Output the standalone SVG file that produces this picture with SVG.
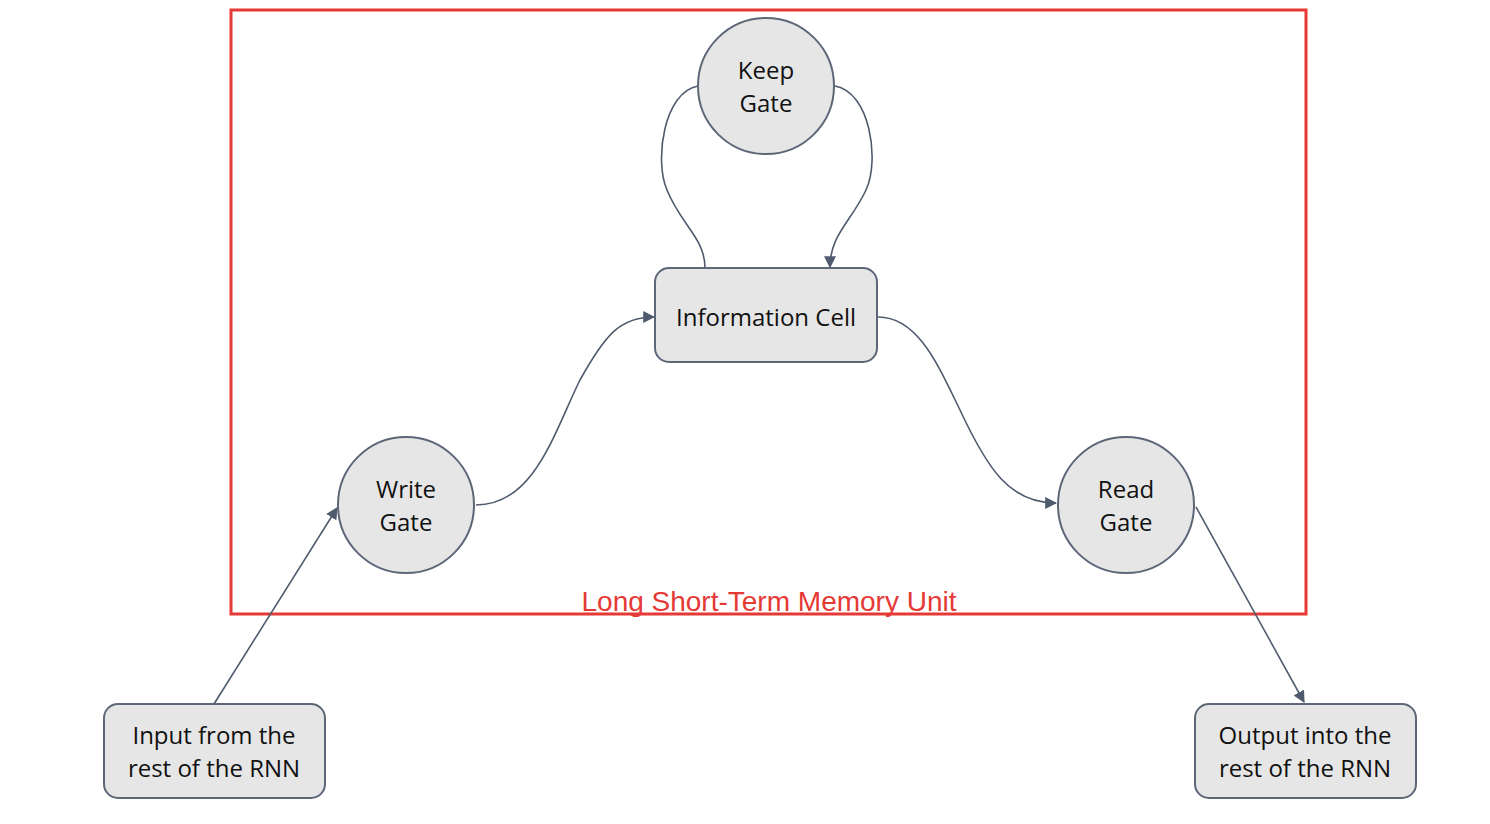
<svg xmlns="http://www.w3.org/2000/svg" width="1490" height="824" viewBox="0 0 1490 824">
<defs>
<style>
.node{fill:#e6e6e6;stroke:#5d6778;stroke-width:2}
.t{font-family:"Open Sans","Noto Sans",sans-serif;font-size:24px;fill:#111;text-anchor:middle}
.c{fill:none;stroke:#4f5b6d;stroke-width:1.6}
</style>
<marker id="ah" viewBox="0 0 10 10" refX="9" refY="5" markerWidth="12" markerHeight="12" markerUnits="userSpaceOnUse" orient="auto">
<path d="M0,0 L10,5 L0,10 z" fill="#4f5b6d"/>
</marker>
</defs>
<rect x="0" y="0" width="1490" height="824" fill="#fff"/>
<g id="lstm-frame">
<rect x="231" y="10" width="1075" height="604" fill="none" stroke="#e53935" stroke-width="3"/>
<text x="769" y="611" font-family="'Liberation Sans',Arial,sans-serif" font-size="28" fill="#e53935" text-anchor="middle">Long Short-Term Memory Unit</text>
</g>
<g id="connectors">
<path class="c" d="M698,86 C664,92 654,160 667,190 C681,225 705,238 705,268"/>
<path class="c" d="M835,86 C870,92 880,160 866,190 C851,222 830,235 830,267" marker-end="url(#ah)"/>
<path class="c" d="M476,505 C535,505 555,430 580,380 C605,335 620,317 654,317" marker-end="url(#ah)"/>
<path class="c" d="M878,317 C918,317 938,365 960,410 C988,470 1010,503 1056,503" marker-end="url(#ah)"/>
<path class="c" d="M214,704 L337,508" marker-end="url(#ah)"/>
<path class="c" d="M1196,507 L1304,702" marker-end="url(#ah)"/>
</g>
<g id="keep-gate">
<circle class="node" cx="766" cy="86" r="68"/>
<text class="t" x="766" y="79">Keep</text>
<text class="t" x="766" y="112">Gate</text>
</g>
<g id="information-cell">
<rect class="node" x="655" y="268" width="222" height="94" rx="14"/>
<text class="t" x="766" y="326">Information Cell</text>
</g>
<g id="write-gate">
<circle class="node" cx="406" cy="505" r="68"/>
<text class="t" x="406" y="498">Write</text>
<text class="t" x="406" y="531">Gate</text>
</g>
<g id="read-gate">
<circle class="node" cx="1126" cy="505" r="68"/>
<text class="t" x="1126" y="498">Read</text>
<text class="t" x="1126" y="531">Gate</text>
</g>
<g id="input">
<rect class="node" x="104" y="704" width="221" height="94" rx="14"/>
<text class="t" x="214" y="744">Input from the</text>
<text class="t" x="214" y="777">rest of the RNN</text>
</g>
<g id="output">
<rect class="node" x="1195" y="704" width="221" height="94" rx="14"/>
<text class="t" x="1305" y="744">Output into the</text>
<text class="t" x="1305" y="777">rest of the RNN</text>
</g>
</svg>
